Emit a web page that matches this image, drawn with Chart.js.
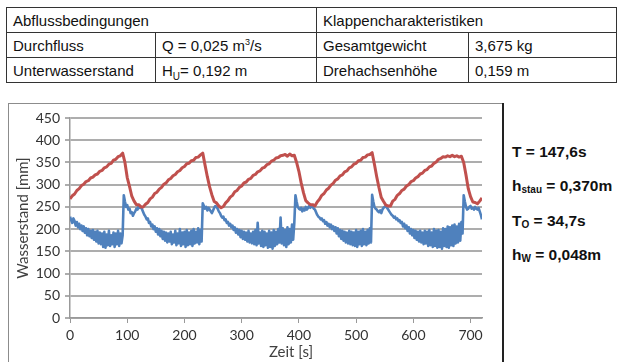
<!DOCTYPE html>
<html>
<head>
<meta charset="utf-8">
<script src="https://cdn.jsdelivr.net/npm/chart.js@4.4.1/dist/chart.umd.min.js"></script>
<style>
  body { margin: 0; width: 619px; height: 362px; overflow: hidden; background: #fff; position: relative;
         font-family: "Liberation Sans", Arial, sans-serif; }
  #info { position: absolute; left: 6px; top: 7px; border-collapse: collapse; table-layout: fixed;
          font-size: 15px; color: #111; }
  #info td { border: 1px solid #333; height: 24px; padding: 0 0 0 6px; white-space: nowrap; }
  #box { position: absolute; left: 8px; top: 103px; width: 494px; height: 300px; border: 1px solid #8c8c8c; }
  #sep { position: absolute; left: 502px; top: 103px; width: 2px; height: 259px; background: #222; }
  #wrap { position: absolute; left: 8px; top: 103px; width: 495px; height: 259px; }
  .p { position: absolute; left: 512px; font: bold 15.5px "Liberation Sans", Arial, sans-serif; color: #111;
       line-height: 18px; white-space: nowrap; }
  .p sub { font-size: 10px; vertical-align: -2px; line-height: 0; }
  sup { font-size: 9px; line-height: 0; }
  #info sub { font-size: 10px; line-height: 0; }
</style>
</head>
<body>
<table id="info">
  <colgroup><col style="width:149px"><col style="width:161px"><col style="width:152px"><col style="width:148px"></colgroup>
  <tr><td colspan="2">Abflussbedingungen</td><td colspan="2">Klappencharakteristiken</td></tr>
  <tr><td>Durchfluss</td><td>Q = 0,025 m<sup>3</sup>/s</td><td>Gesamtgewicht</td><td>3,675 kg</td></tr>
  <tr><td>Unterwasserstand</td><td>H<sub>U</sub>= 0,192 m</td><td>Drehachsenhöhe</td><td>0,159 m</td></tr>
</table>
<div id="box"></div>
<div id="wrap"><canvas id="c" width="495" height="259"></canvas></div>
<div id="sep"></div>
<div class="p" style="top:143px">T = 147,6s</div>
<div class="p" style="top:177px">h<sub>stau</sub> = 0,370m</div>
<div class="p" style="top:212px">T<sub>O</sub> = 34,7s</div>
<div class="p" style="top:246px">h<sub>W</sub> = 0,048m</div>
<script>
// Zeit [s] fuer Oberwasser (alle 4 s)
const zeitO = [0,4,8,12,16,20,24,28,32,36,40,44,48,52,56,60,64,68,72,76,80,84,88,92,96,100,
  104,108,112,116,120,124,128,132,136,140,144,148,152,156,160,164,168,172,176,180,184,188,192,196,200,
  204,208,212,216,220,224,228,232,236,240,244,248,252,256,260,264,268,272,276,280,284,288,292,296,300,
  304,308,312,316,320,324,328,332,336,340,344,348,352,356,360,364,368,372,376,380,384,388,392,396,400,
  404,408,412,416,420,424,428,432,436,440,444,448,452,456,460,464,468,472,476,480,484,488,492,496,500,
  504,508,512,516,520,524,528,532,536,540,544,548,552,556,560,564,568,572,576,580,584,588,592,596,600,
  604,608,612,616,620,624,628,632,636,640,644,648,652,656,660,664,668,672,676,680,684,688,692,696,700,
  704,708,712,716,720];

// Oberwasser (rot), mm
const oberwasser = [268,275,279,287,291,298,301,307,309,315,317,322,324,330,332,338,340,346,348,355,357,363,365,371,350,316,
  296,274,263,255,255,250,250,256,260,268,272,280,283,290,294,301,304,311,314,320,323,329,332,338,341,
  347,348,354,355,361,362,367,371,344,318,295,277,262,259,252,248,251,259,264,272,276,284,287,294,297,
  304,306,312,314,321,323,329,331,337,339,345,347,353,355,360,361,365,366,368,364,369,365,366,350,330,
  304,282,264,259,255,255,252,261,267,276,280,288,292,299,303,310,313,320,322,329,331,338,340,346,348,
  354,355,361,362,367,368,372,346,318,293,271,262,254,252,252,263,267,276,280,287,290,297,300,307,309,
  315,318,324,326,332,334,340,342,348,351,357,359,363,362,365,363,366,363,365,362,364,350,322,291,273,
  261,260,257,263,270];

// Zeit [s] fuer Unterwasser (alle 2 s), 20 Werte je Zeile
const zeitU = [
  0,2,4,6,8,10,12,14,16,18,20,22,24,26,28,30,32,34,36,38,
  40,42,44,46,48,50,52,54,56,58,60,62,64,66,68,70,72,74,76,78,
  80,82,84,86,88,90,92,94,96,98,100,102,104,106,108,110,112,114,116,118,
  120,122,124,126,128,130,132,134,136,138,140,142,144,146,148,150,152,154,156,158,
  160,162,164,166,168,170,172,174,176,178,180,182,184,186,188,190,192,194,196,198,
  200,202,204,206,208,210,212,214,216,218,220,222,224,226,228,230,232,234,236,238,
  240,242,244,246,248,250,252,254,256,258,260,262,264,266,268,270,272,274,276,278,
  280,282,284,286,288,290,292,294,296,298,300,302,304,306,308,310,312,314,316,318,
  320,322,324,326,328,330,332,334,336,338,340,342,344,346,348,350,352,354,356,358,
  360,362,364,366,368,370,372,374,376,378,380,382,384,386,388,390,392,394,396,398,
  400,402,404,406,408,410,412,414,416,418,420,422,424,426,428,430,432,434,436,438,
  440,442,444,446,448,450,452,454,456,458,460,462,464,466,468,470,472,474,476,478,
  480,482,484,486,488,490,492,494,496,498,500,502,504,506,508,510,512,514,516,518,
  520,522,524,526,528,530,532,534,536,538,540,542,544,546,548,550,552,554,556,558,
  560,562,564,566,568,570,572,574,576,578,580,582,584,586,588,590,592,594,596,598,
  600,602,604,606,608,610,612,614,616,618,620,622,624,626,628,630,632,634,636,638,
  640,642,644,646,648,650,652,654,656,658,660,662,664,666,668,670,672,674,676,678,
  680,682,684,686,688,690,692,694,696,698,700,702,704,706,708,710,712,714,716,718,
  720];

// Unterwasser (blau), mm
const unterwasser = [
  228,220,214,224,218,208,216,204,212,200,208,196,206,192,202,186,200,184,196,180,
  198,176,194,172,196,168,192,166,190,160,194,158,188,164,196,162,186,166,192,160,
  190,166,196,162,190,168,186,276,262,250,254,244,246,236,238,230,236,240,246,244,
  252,248,250,244,238,232,228,222,224,214,216,206,210,200,206,194,202,188,200,184,
  196,178,194,174,192,170,190,172,194,166,188,170,196,164,190,168,200,162,192,166,
  194,160,198,164,192,166,196,162,200,168,194,170,202,166,198,172,258,252,246,250,
  242,248,244,240,236,242,248,252,250,246,240,236,230,226,228,220,222,214,216,208,
  212,204,208,198,204,192,200,188,198,182,196,178,194,176,192,172,196,170,190,168,
  194,166,198,164,214,168,192,162,196,160,194,164,190,158,196,160,192,156,198,162,
  194,166,200,170,226,168,202,164,198,160,204,166,200,170,210,176,214,276,262,250,
  246,244,248,240,246,242,250,244,248,252,248,252,250,246,244,238,232,228,226,222,
  224,218,220,212,216,208,212,204,210,200,206,196,204,190,202,184,198,178,196,174,
  194,170,192,168,196,166,194,164,192,162,198,160,194,166,196,162,200,166,194,164,
  198,168,202,170,277,262,250,246,244,240,238,242,236,244,248,250,252,248,244,240,
  236,232,230,226,228,222,224,218,220,214,216,206,212,202,208,196,204,190,200,186,
  198,180,196,176,194,172,196,170,192,166,196,168,194,162,198,164,192,160,200,162,
  196,158,198,160,194,156,202,162,200,160,206,158,204,164,208,162,210,168,206,170,
  212,174,216,190,276,262,250,244,246,250,252,246,248,244,250,246,244,248,240,232,
  222];

const yTicks = [0,50,100,150,200,250,300,350,400,450];
const xTicks = [0,100,200,300,400,500,600,700];

const pts = (zeit, vals) => vals.map((v, i) => ({x: zeit[i], y: v}));

const xTitle = {
  id: 'xTitle',
  afterDraw(chart) {
    const ctx = chart.ctx, a = chart.chartArea;
    ctx.save();
    ctx.font = '15px Lato';
    ctx.fillStyle = '#404040';
    ctx.textAlign = 'center';
    ctx.textBaseline = 'middle';
    ctx.fillText('Zeit [s]', (a.left + a.right) / 2 + 15, a.bottom + 34);
    ctx.restore();
  }
};

new Chart(document.getElementById('c').getContext('2d'), {
  type: 'line',
  data: {
    datasets: [
      { label: 'Oberwasser', data: pts(zeitO, oberwasser), borderColor: '#C0504D', borderWidth: 3,
        pointRadius: 0, tension: 0, borderJoinStyle: 'round' },
      { label: 'Unterwasser', data: pts(zeitU, unterwasser), borderColor: '#4F81BD', borderWidth: 2.6,
        pointRadius: 0, tension: 0, borderJoinStyle: 'round' }
    ]
  },
  options: {
    responsive: false,
    animation: false,
    devicePixelRatio: 1,
    layout: { padding: { top: 15, right: 21, left: 0, bottom: 0 } },
    plugins: { legend: { display: false }, tooltip: { enabled: false } },
    scales: {
      x: {
        type: 'linear', min: 0, max: 720,
        afterBuildTicks: s => { s.ticks = xTicks.map(v => ({value: v})); },
        afterFit: s => { s.height = 44; },
        ticks: { font: { family: 'Lato', size: 14 }, color: '#333', padding: 4, maxRotation: 0 },
        grid: { drawOnChartArea: false, tickLength: 5, color: '#999', lineWidth: 1 },
        border: { color: '#999', width: 1.5 }
      },
      y: {
        min: 0, max: 450,
        afterBuildTicks: s => { s.ticks = yTicks.map(v => ({value: v})); },
        afterFit: s => { s.width = 62; },
        ticks: { font: { family: 'Lato', size: 14 }, color: '#333', padding: 5 },
        grid: { color: '#ADADAD', lineWidth: 2, tickLength: 5 },
        border: { color: '#999', width: 1.5 },
        title: { display: true, text: 'Wasserstand [mm]', font: { family: 'Lato', size: 15 },
                 color: '#404040', padding: { top: 6, bottom: 0 } }
      }
    }
  },
  plugins: [xTitle]
});
</script>
</body>
</html>
